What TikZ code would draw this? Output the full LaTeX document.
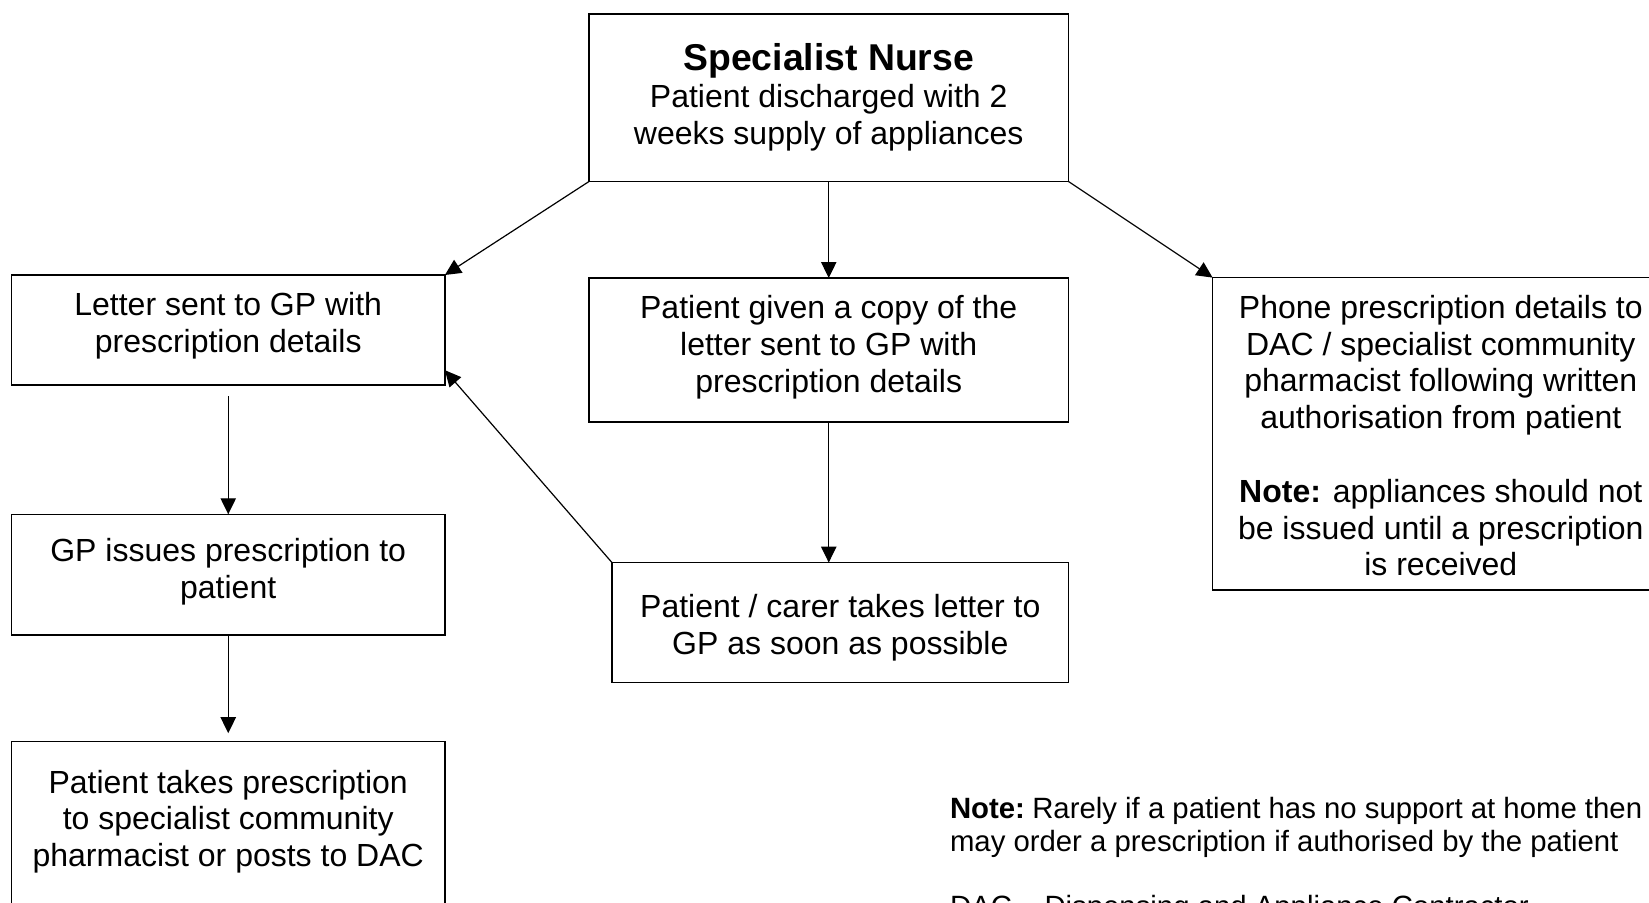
\documentclass[tikz,border=0pt]{standalone}
\usepackage{fontspec}
\setmainfont{Liberation Sans}
\usetikzlibrary{arrows.meta,fit}
\newcommand\fbig{\fontsize{24pt}{27.6pt}\selectfont}
\newcommand\fhead{\fontsize{28pt}{32.2pt}\selectfont\bfseries}
\newcommand\fnote{\fontsize{22pt}{25.3pt}\selectfont}
\begin{document}
\begin{tikzpicture}[x=0.75pt,y=-0.75pt,
  box/.style={draw,line width=1.2pt,rectangle,inner sep=0pt,outer sep=0pt},
  lbl/.style={anchor=base,inner sep=0pt,outer sep=0pt,font=\fbig},
  arr/.style={draw,line width=0.9pt,-{Triangle[length=12pt,width=11.5pt]}}]
\useasboundingbox (0,0) rectangle (1649,903);
\clip (0,0) rectangle (1649,903);
\fill[white] (0,0) rectangle (1649,903);
% boxes
\node[box,fit={(589,13.7) (1068.5,181.5)}] (nurse) {};
\node[box,fit={(11.6,275) (444.9,385)}] (letter) {};
\node[box,fit={(589,278) (1068.5,421.7)}] (copy) {};
\node[box,fit={(1212.6,277.6) (1690,590)}] (phone) {};
\node[box,fit={(11.6,514.3) (444.9,635)}] (gp) {};
\node[box,fit={(612,562.6) (1068.5,682.5)}] (carer) {};
\node[box,fit={(11.6,741.5) (444.9,980)}] (post) {};
% texts
\node[lbl,font=\fhead] (tnurseh) at (828.7,70.5) {Specialist Nurse};
\node[lbl] (tnurse) at (828.7,107.5) {\begin{tabular}[t]{@{}c@{}}Patient discharged with 2\\weeks supply of appliances\end{tabular}};
\node[lbl] (tletter) at (228.2,315.7) {\begin{tabular}[t]{@{}c@{}}Letter sent to GP with\\prescription details\end{tabular}};
\node[lbl] (tcopy) at (828.7,318.7) {\begin{tabular}[t]{@{}c@{}}Patient given a copy of the\\letter sent to GP with\\prescription details\end{tabular}};
\node[lbl] (tphone) at (1440.8,318.3) {\begin{tabular}[t]{@{}c@{}}Phone prescription details to\\DAC / specialist community\\pharmacist following written\\authorisation from patient\\[27.6pt]\textbf{Note:} appliances should not\\be issued until a prescription\\is received\end{tabular}};
\node[lbl] (tgp) at (228.2,561.7) {\begin{tabular}[t]{@{}c@{}}GP issues prescription to\\patient\end{tabular}};
\node[lbl] (tcarer) at (840.3,617.5) {\begin{tabular}[t]{@{}c@{}}Patient / carer takes letter to\\GP as soon as possible\end{tabular}};
\node[lbl] (tpost) at (228.2,793) {\begin{tabular}[t]{@{}c@{}}Patient takes prescription\\to specialist community\\pharmacist or posts to DAC\end{tabular}};
\node[lbl,anchor=base west,font=\fnote] (tnote) at (950,818) {\begin{tabular}[t]{@{}l@{}}\textbf{Note:}\hspace{-0.12em} Rarely if a patient has no support at home then\\may order a prescription if authorised by the patient\\[23pt]DAC – Dispensing and Appliance Contractor\end{tabular}};
% connectors
\coordinate (backtip) at (444.9,370.2);
\draw[arr] (nurse.south west) -- (letter.north east);
\draw[arr] (nurse.south) -- (copy.north);
\draw[arr] (nurse.south east) -- (phone.north west);
\draw[arr] (copy.south) -- (copy.south |- carer.north);
\draw[arr] (carer.north west) -- (backtip);
\draw[arr,shorten <=8.6pt] (letter.south) -- (gp.north);
\draw[arr,shorten >=6.2pt] (gp.south) -- (post.north);
\end{tikzpicture}
\end{document}
